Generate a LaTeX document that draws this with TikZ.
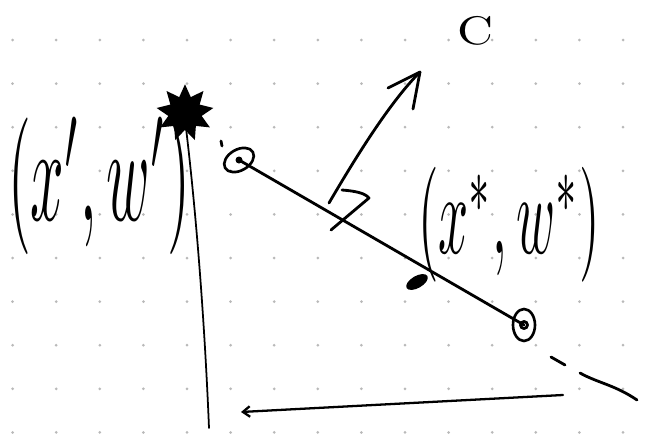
\documentclass[tikz,border=0pt]{standalone}
\usepackage{graphicx}
\usepackage{tikz}
\usetikzlibrary{shapes.geometric, arrows.meta}
\definecolor{mydots}{RGB}{185,185,185}
\definecolor{myink}{RGB}{0,0,0}
\tikzset{
  ink/.style={draw=myink, line width=1.6pt, line cap=round, line join=round},
  thinink/.style={draw=myink, line width=1.0pt, line cap=round},
  ptnode/.style={ellipse, draw=myink, line width=1.5pt, inner sep=0pt},
  starblob/.style={star, star points=9, star point ratio=1.7, fill=myink,
    minimum size=1.15cm, inner sep=0pt},
  hand/.style={inner sep=0pt, text=myink}
}
\begin{document}
\begin{tikzpicture}[x=0.02cm, y=-0.02cm]
  \useasboundingbox (0,0) rectangle (646,433);
  % Dot grid
  \foreach \i in {0,...,14}
    \foreach \j in {0,...,9}
      \fill[mydots] (12.6+43.6*\i, 40+43.6*\j) circle (1.5);

  % Axes
  \coordinate (ytop) at (186,128);
  \coordinate (ybot) at (209,428);
  \coordinate (xleft) at (241,412);
  \coordinate (xright) at (563,395);
  \draw[thinink] (ytop) .. controls (197,220) and (205,330) .. (ybot);
  \draw[thinink, line width=1.3pt, {Straight Barb[length=4pt,width=6pt]}-] (xleft) -- (xright);

  % Star on top of the axis
  \node[starblob] (top) at (185,113) {};

  % Points and the segment between them
  \node[ptnode, minimum width=0.64cm, minimum height=0.42cm, rotate=30] (pA) at (239,160) {};
  \node[ptnode, minimum width=0.44cm, minimum height=0.64cm] (pB) at (524,325) {};
  \fill[myink] (pA.center) circle (3.5);
  \draw[ink] (pB.center) circle (3.5);
  \draw[ink] (pA.center) -- (pB.center);
  \draw[ink] (221,141) -- (222,146);

  % Dashed continuation
  \coordinate (dA) at (551,357);
  \coordinate (dB) at (565,365);
  \coordinate (dC) at (580,373);
  \coordinate (dD) at (637,400);
  \draw[ink] (dA) -- (dB);
  \draw[ink] (dC) .. controls (598,383) and (615,385) .. (dD);

  % Blob on the segment
  \fill[myink, rotate around={30:(417,282)}] (417,282) ellipse (12 and 6);

  % Normal vector
  \coordinate (nBase) at (329,203);
  \coordinate (nTip) at (420,72);
  \coordinate (nL) at (388,88);
  \coordinate (nR) at (413,109);
  \draw[ink] (nBase) .. controls (360,150) and (392,100) .. (nTip);
  \draw[ink] (nL) -- (nTip) -- (nR);

  % Right-angle mark
  \coordinate (mA) at (342,190);
  \coordinate (mB) at (369,198);
  \coordinate (mC) at (331,230);
  \draw[ink] (mA) .. controls (355,191) and (365,193) .. (mB) -- (mC);

  % Labels
  \node[hand] (lblC) at (475,31) {\resizebox*{0.72cm}{0.58cm}{C}};
  \node[hand] (lblOld) at (99,186) {\resizebox*{3.64cm}{2.74cm}{$(x',w')$}};
  \node[hand] (lblOpt) at (509,225) {\resizebox*{3.64cm}{2.3cm}{$(x^*,w^*)$}};
\end{tikzpicture}
\end{document}
